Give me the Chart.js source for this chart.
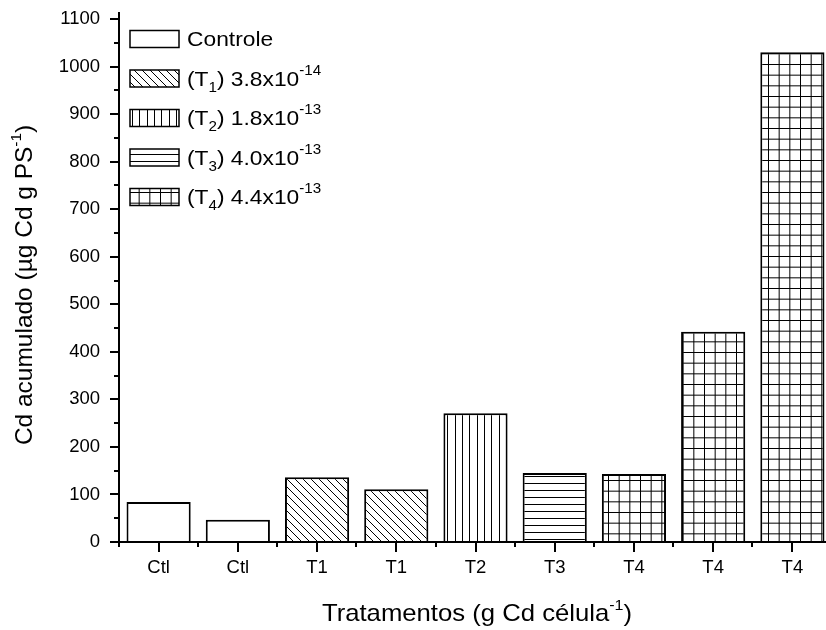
<!DOCTYPE html>
<html>
<head>
<meta charset="utf-8">
<script src="https://cdn.jsdelivr.net/npm/chart.js@4.4.0/dist/chart.umd.min.js"></script>
<style>
  html, body { margin: 0; padding: 0; background: #fff; overflow: hidden; }
  canvas { display: block; }
</style>
</head>
<body>
<canvas id="cdChart" width="840" height="630"></canvas>
<script>
// Dados: Cd acumulado por tratamento
const categories = ['Ctl', 'Ctl', 'T1', 'T1', 'T2', 'T3', 'T4', 'T4', 'T4'];
const cdValues = [84, 47, 136, 111, 271, 145, 143, 442, 1030];
const barTreatment = [0, 0, 1, 1, 2, 3, 4, 4, 4]; // índice da hachura de cada barra

// Legenda: nome, subscrito, dose e expoente
const legendNames = ['Controle', '(T', '(T', '(T', '(T'];
const legendSubs = ['', '1', '2', '3', '4'];
const legendDoses = ['', ') 3.8x10', ') 1.8x10', ') 4.0x10', ') 4.4x10'];
const legendExps = ['', '-14', '-13', '-13', '-13'];

const FONT = 'Liberation Sans, Arial, sans-serif';

// Cria as hachuras (vazio, diagonal, vertical, horizontal, grade)
function makePattern(kind) {
    const tile = document.createElement('canvas');
    const size = { none: 8, diag: 8, vert: 22, horiz: 7, grid: 32 }[kind];
    tile.width = size;
    tile.height = size;
    const c = tile.getContext('2d');
    c.fillStyle = '#fff';
    c.fillRect(0, 0, size, size);
    c.strokeStyle = '#000';
    c.lineWidth = 1;
    c.beginPath();
    if (kind === 'diag') {
        [-8, 0, 8].forEach(o => { c.moveTo(o, 0); c.lineTo(o + 8, 8); });
    } else if (kind === 'vert') {
        [0.5, 7.5, 15.5].forEach(x => { c.moveTo(x, 0); c.lineTo(x, size); });
    } else if (kind === 'horiz') {
        c.moveTo(0, 0.5); c.lineTo(size, 0.5);
    } else if (kind === 'grid') {
        [0.5, 11.17, 21.83].forEach(p => {
            c.moveTo(p, 0); c.lineTo(p, size);
            c.moveTo(0, p); c.lineTo(size, p);
        });
    }
    c.stroke();
    return c.createPattern(tile, 'repeat');
}

const patterns = ['none', 'diag', 'vert', 'horiz', 'grid'].map(makePattern);

// Desenha texto com partes sub/sobrescritas (sx = esticamento horizontal)
function drawRich(ctx, parts, x, y, align, sx) {
    sx = sx || 1;
    let total = 0;
    parts.forEach(p => {
        ctx.font = p.size + 'px ' + FONT;
        p.w = ctx.measureText(p.text).width;
        total += p.w;
    });
    ctx.save();
    ctx.translate(x, y);
    ctx.scale(sx, 1);
    let cx = align === 'center' ? -total / 2 : 0;
    ctx.textAlign = 'left';
    ctx.textBaseline = 'alphabetic';
    parts.forEach(p => {
        ctx.font = p.size + 'px ' + FONT;
        ctx.fillText(p.text, cx, p.dy || 0);
        cx += p.w;
    });
    ctx.restore();
}

const axesPlugin = {
    id: 'axesPlugin',
    afterDraw(chart) {
        const ctx = chart.ctx;
        const area = chart.chartArea;
        const xs = chart.scales.x;
        const ys = chart.scales.y;
        ctx.save();
        ctx.strokeStyle = '#000';
        ctx.fillStyle = '#000';
        ctx.lineWidth = 2;

        // eixos
        ctx.beginPath();
        ctx.moveTo(area.left, area.top - 7);
        ctx.lineTo(area.left, area.bottom + 1);
        ctx.moveTo(area.left - 1, area.bottom);
        ctx.lineTo(area.right + 10, area.bottom);
        ctx.stroke();

        // marcas do eixo y (100 maiores, 50 menores)
        ctx.beginPath();
        for (let v = 0; v <= 1100; v += 50) {
            const py = Math.round(ys.getPixelForValue(v));
            const len = v % 100 === 0 ? 9 : 5;
            ctx.moveTo(area.left - len, py);
            ctx.lineTo(area.left, py);
        }
        // marcas do eixo x
        const half = (xs.getPixelForValue(1) - xs.getPixelForValue(0)) / 2;
        categories.forEach((c, i) => {
            const px = Math.round(xs.getPixelForValue(i));
            ctx.moveTo(px, area.bottom);
            ctx.lineTo(px, area.bottom + 10);
            const edge = Math.round(px - half);
            ctx.moveTo(edge, area.bottom);
            ctx.lineTo(edge, area.bottom + 5);
        });
        ctx.stroke();

        // títulos dos eixos
        drawRich(ctx, [
            { text: 'Tratamentos (g Cd célula', size: 24 },
            { text: '-1', size: 15, dy: -11 },
            { text: ')', size: 24 }
        ], 477, 621, 'center', 1.07);

        ctx.save();
        ctx.translate(32, 285);
        ctx.rotate(-Math.PI / 2);
        drawRich(ctx, [
            { text: 'Cd acumulado (µg Cd g PS', size: 24 },
            { text: '-1', size: 15, dy: -11 },
            { text: ')', size: 24 }
        ], 0, 0, 'center', 1.02);
        ctx.restore();

        // legenda
        const bx = 130, bw = 49, bh = 17, top = 39, step = 39.5;
        legendNames.forEach((name, i) => {
            const cy = top + i * step;
            ctx.fillStyle = patterns[i];
            ctx.fillRect(bx, cy - bh / 2, bw, bh);
            ctx.lineWidth = 1.5;
            ctx.strokeRect(bx, cy - bh / 2, bw, bh);
            ctx.fillStyle = '#000';
            const parts = [{ text: name, size: 21 }];
            if (legendSubs[i]) {
                parts.push({ text: legendSubs[i], size: 14, dy: 6 });
                parts.push({ text: legendDoses[i], size: 21 });
                parts.push({ text: legendExps[i], size: 14, dy: -11 });
            }
            drawRich(ctx, parts, 187, cy + 7, 'left', 1.085);
        });
        ctx.restore();
    }
};

new Chart(document.getElementById('cdChart'), {
    type: 'bar',
    data: {
        labels: categories,
        datasets: [{
            data: cdValues,
            backgroundColor: barTreatment.map(t => patterns[t]),
            borderColor: '#000',
            borderWidth: 2,
            barPercentage: 0.81,
            categoryPercentage: 1
        }]
    },
    options: {
        responsive: false,
        animation: false,
        layout: { padding: { top: 19, right: 8, left: 0, bottom: 0 } },
        plugins: {
            legend: { display: false },
            tooltip: { enabled: false }
        },
        scales: {
            x: {
                grid: { display: false, drawTicks: false },
                border: { display: false },
                ticks: { color: '#000', font: { family: FONT, size: 18.5 }, padding: 15, maxRotation: 0 },
                afterFit: s => { s.height = 88; }
            },
            y: {
                min: 0,
                max: 1100,
                grid: { display: false, drawTicks: false },
                border: { display: false },
                ticks: {
                    stepSize: 100,
                    color: '#000',
                    font: { family: FONT, size: 18.5 },
                    padding: 19,
                    callback: v => String(v)
                },
                afterFit: s => {
                    s.width = 119;
                    s.paddingTop = 0;
                    s.paddingBottom = 0;
                }
            }
        }
    },
    plugins: [axesPlugin]
});
</script>
</body>
</html>
